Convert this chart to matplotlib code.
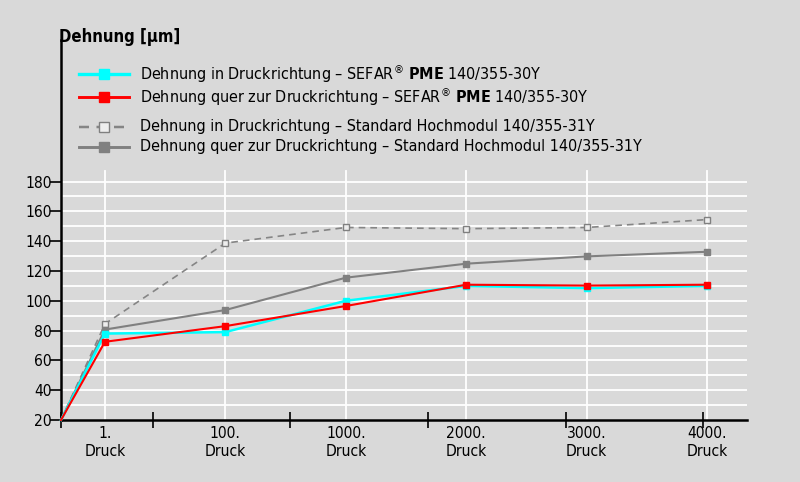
import matplotlib
matplotlib.use("Agg")
import matplotlib.pyplot as plt
from matplotlib.lines import Line2D
from matplotlib import font_manager

# --- data ---
druck_labels = ["1.\nDruck", "100.\nDruck", "1000.\nDruck", "2000.\nDruck", "3000.\nDruck", "4000.\nDruck"]
start_value = 20
sefar_in = [78, 79, 100, 110, 108.5, 110]
sefar_quer = [72.5, 83, 96.5, 110.8, 110.2, 110.8]
std_in = [84.5, 138.7, 149.2, 148.4, 149.2, 154.5]
std_quer = [80.7, 93.8, 115.5, 124.9, 129.8, 132.9]

labels = [
    r"Dehnung in Druckrichtung – SEFAR$^{®}$ $\mathbf{PME}$ 140/355-30Y",
    r"Dehnung quer zur Druckrichtung – SEFAR$^{®}$ $\mathbf{PME}$ 140/355-30Y",
    "Dehnung in Druckrichtung – Standard Hochmodul 140/355-31Y",
    "Dehnung quer zur Druckrichtung – Standard Hochmodul 140/355-31Y",
]
y_ticks = [20, 40, 60, 80, 100, 120, 140, 160, 180]

# pick a narrow font if there is one
fonts = font_manager.fontManager.ttflist
names = {f.name for f in fonts}
fam, stretch = "Liberation Sans", "normal"
if "Liberation Sans Narrow" in names:
    fam = "Liberation Sans Narrow"
elif any(f.name == "DejaVu Sans" and f.stretch == "condensed" for f in fonts):
    fam, stretch = "DejaVu Sans", "condensed"
plt.rcParams["font.family"] = [fam, "DejaVu Sans"]
plt.rcParams["font.stretch"] = stretch
plt.rcParams["mathtext.fontset"] = "custom"
plt.rcParams["mathtext.rm"] = fam
plt.rcParams["mathtext.bf"] = fam + ":bold"
scale = 1.0 if fam != "Liberation Sans" else 0.95

bg = "#d9d9d9"
fig = plt.figure(figsize=(8, 4.82), dpi=100, facecolor=bg)
ax = fig.add_axes([0.07625, 0.1286, 0.8575, 0.7884])
ax.set_facecolor(bg)

x_left = 0.635
xs = list(range(1, len(druck_labels) + 1))
ax.set_xlim(x_left, 6.332)
ax.set_ylim(20, 275)

# grid
for v in range(30, 190, 10):
    ax.axhline(v, color="white", lw=1.3, zorder=1)
for x in xs:
    ax.plot([x, x], [20, 187], color="white", lw=1.3, zorder=1)

series = [
    (sefar_in, dict(color="#00ffff", lw=1.8, marker="s", ms=5, mfc="#00ffff", mec="#00ffff")),
    (sefar_quer, dict(color="#ff0000", lw=1.5, marker="s", ms=5, mfc="#ff0000", mec="#ff0000")),
    (std_in, dict(color="#858585", lw=1.2, ls=(0, (4, 3)), marker="s", ms=5, mfc="#eeeeee", mec="#808080", mew=1)),
    (std_quer, dict(color="#808080", lw=1.5, marker="s", ms=4.5, mfc="#808080", mec="#808080")),
]
order = [2, 3, 0, 1]
for i in order:
    vals, st = series[i]
    ax.plot([x_left] + xs, [start_value] + vals, zorder=3, clip_on=False,
            markevery=list(range(1, len(xs) + 1)), **st)

# axes styling
for s in ["top", "right"]:
    ax.spines[s].set_visible(False)
ax.spines["left"].set_linewidth(1.8)
ax.spines["bottom"].set_linewidth(1.8)
ax.set_yticks(y_ticks)
ax.tick_params(axis="y", direction="out", length=8, width=1.2, labelsize=11.2 * scale, pad=-1.5)
ax.set_xticks(xs)
ax.set_xticklabels(druck_labels, fontsize=11.2 * scale, linespacing=1.3)
ax.tick_params(axis="x", length=0, pad=4)
ax.set_xticks([x_left, 1.399, 2.537, 3.683, 4.829, 5.967], minor=True)
ax.tick_params(axis="x", which="minor", direction="inout", length=12, width=1.2)

# title
fig.text(59 / 800, 1 - 37 / 482, "Dehnung [µm]", fontsize=12 * scale, fontweight="bold", va="center", ha="left")

# legend drawn manually
rows = [74, 97, 127, 147]
for (vals, st), y, lab in zip(series, rows, labels):
    yf = 1 - y / 482
    ln = Line2D([79 / 800, 129 / 800], [yf, yf], transform=fig.transFigure, color=st["color"],
                lw=st["lw"] + 0.6, ls=st.get("ls", "-"))
    fig.add_artist(ln)
    mk = Line2D([104 / 800], [yf], transform=fig.transFigure, marker="s", ms=7, ls="none",
                mfc=st["mfc"], mec=st["mec"], mew=st.get("mew", 1))
    fig.add_artist(mk)
    fig.text(140 / 800, yf, lab, fontsize=11.5 * scale, va="center", ha="left")

fig.savefig("out.png", dpi=100, facecolor=bg)
